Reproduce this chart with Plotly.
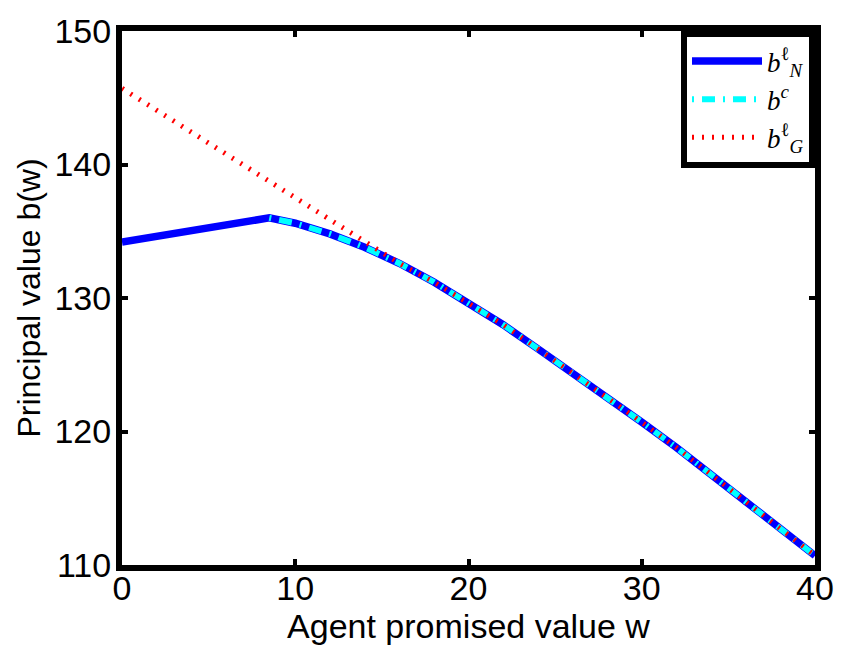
import plotly.graph_objects as go

# Agent promised value grid and principal value curves
w_rise = [0, 8.5]
b_rise = [134.2, 136.0]

w_common = [8.5, 10, 12, 14, 16, 18, 20, 22, 24, 26, 28, 30, 32, 34, 36, 38, 40]
b_common = [136.0, 135.6, 134.8, 133.8, 132.6, 131.2, 129.6, 128.0, 126.2,
            124.4, 122.6, 120.7, 118.8, 116.8, 114.8, 112.8, 110.7]

w_N = w_rise + w_common[1:]
b_N = b_rise + b_common[1:]

w_c = w_common
b_c = b_common

w_G_head = [0, 2, 4, 6, 8, 10, 12, 14, 16]
b_G_head = [145.7, 144.05, 142.4, 140.75, 139.1, 137.45, 135.8, 134.15, 132.6]
w_G = w_G_head + w_common[5:]
b_G = b_G_head + b_common[5:]

x_ticks = [0, 10, 20, 30, 40]
y_ticks = [110, 120, 130, 140, 150]

fig = go.Figure()
fig.add_trace(go.Scatter(
    x=w_N, y=b_N, mode="lines",
    name="<i>b</i><sup>ℓ</sup><sub><i>N</i></sub>",
    line=dict(color="#0000ff", width=7.5),
))
fig.add_trace(go.Scatter(
    x=w_c, y=b_c, mode="lines",
    name="<i>b</i><sup><i>c</i></sup>",
    line=dict(color="#00ffff", width=6, dash="2px,8px,13px,8px"),
))
fig.add_trace(go.Scatter(
    x=w_G, y=b_G, mode="lines",
    name="<i>b</i><sup>ℓ</sup><sub><i>G</i></sub>",
    line=dict(color="#ff0000", width=5, dash="2px,8px"),
))

axis_common = dict(
    showline=True, linecolor="black", linewidth=6, mirror="ticks",
    ticks="inside", ticklen=6, tickwidth=4, tickcolor="black",
    showgrid=False, zeroline=False,
    tickfont=dict(family="Liberation Sans, Arial", size=34, color="black"),
)

fig.update_xaxes(
    range=[0, 40], tickvals=x_ticks, ticktext=[str(v) for v in x_ticks],
    ticklabelstandoff=-12,
    title=dict(text="Agent promised value w", standoff=1,
               font=dict(family="Liberation Sans, Arial", size=34, color="black")),
    **axis_common,
)
fig.update_yaxes(
    range=[110, 150], tickvals=y_ticks, ticktext=[str(v) for v in y_ticks],
    ticklabelstandoff=-2,
    title=dict(text="Principal value b(w)", standoff=6,
               font=dict(family="Liberation Sans, Arial", size=32, color="black")),
    **axis_common,
)

fig.update_layout(
    width=846, height=651,
    margin=dict(l=122, r=27, t=22, b=86),
    paper_bgcolor="white", plot_bgcolor="white",
    showlegend=True,
    legend=dict(
        x=1.0, y=1.0, xanchor="right", yanchor="top",
        bgcolor="white", bordercolor="black", borderwidth=6,
        font=dict(family="Liberation Serif, DejaVu Serif", size=27, color="black"),
        itemwidth=70, tracegroupgap=0,
    ),
)

fig.write_html("out.html")
